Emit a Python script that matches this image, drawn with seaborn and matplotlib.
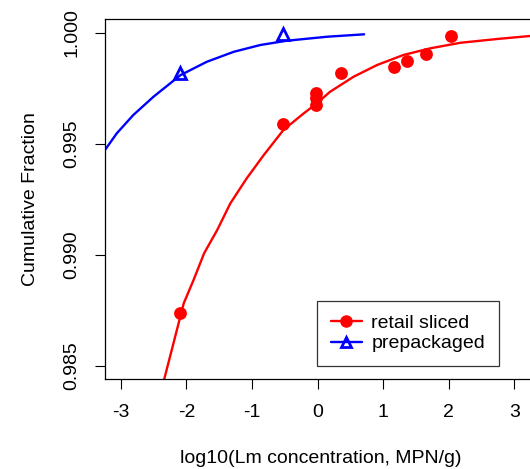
#!/usr/bin/env python3

import numpy as np
import pandas as pd
import matplotlib as mpl

mpl.use("Agg")

import matplotlib.pyplot as plt
import seaborn as sns
from matplotlib.lines import Line2D

# observed points
retail_x = [-2.09, -0.53, -0.03, -0.03, -0.03, 0.36, 1.17, 1.37, 1.66, 2.04]
retail_y = [0.98736, 0.99589, 0.99730, 0.99705, 0.99674, 0.99820, 0.99844, 0.99874, 0.99904, 0.99986]
prepack_x = [-2.09, -0.53]
prepack_y = [0.99818, 0.99993]

# fitted curves
retail_fit_x = [-2.40, -2.34, -2.04, -1.89, -1.73, -1.53, -1.33, -1.08, -0.82, -0.52,
                -0.21, -0.01, 0.19, 0.55, 0.91, 1.31, 1.72, 2.18, 2.74, 3.30]
retail_fit_y = [0.98410, 0.98436, 0.98781, 0.98886, 0.99006, 0.99111, 0.99231, 0.99344, 0.99449, 0.99562,
                0.99637, 0.99682, 0.99734, 0.99802, 0.99855, 0.99900, 0.99930, 0.99955, 0.99972, 0.99987]
prepack_fit_x = [-3.30, -3.24, -3.06, -2.81, -2.50, -2.09, -1.69, -1.28, -0.87, -0.47, 0.14, 0.71]
prepack_fit_y = [0.99445, 0.99472, 0.99547, 0.99629, 0.99712, 0.99809, 0.99869, 0.99914, 0.99945, 0.99964, 0.99982, 0.99993]

xticks = [-3, -2, -1, 0, 1, 2, 3]
yticks = [0.985, 0.990, 0.995, 1.000]

sns.set_theme(style="ticks")
plt.rcParams["font.family"] = ["Liberation Sans", "DejaVu Sans"]
plt.rcParams.update({
    "font.size": 14,
    "text.color": "black",
    "axes.labelcolor": "black",
    "xtick.color": "black",
    "ytick.color": "black",
})

fig = plt.figure(figsize=(5.30, 4.69), dpi=100)
ax = fig.add_axes([105 / 530, 1 - 379 / 469, 431 / 530, 360 / 469])

red = "#ff0000"
blue = "#0000ff"

sns.lineplot(x=retail_fit_x, y=retail_fit_y, ax=ax, color=red, lw=1.7, sort=False)
sns.lineplot(x=prepack_fit_x, y=prepack_fit_y, ax=ax, color=blue, lw=1.7, sort=False)
sns.scatterplot(x=retail_x, y=retail_y, ax=ax, color=red, s=85, marker="o",
                edgecolor=red, linewidth=0, zorder=5)
ax.plot(prepack_x, prepack_y, ls="none", marker="^", ms=9, mfc="none",
        mec=blue, mew=2, zorder=5)

ax.set_xlim(-3.24, 3.33)
ax.set_ylim(0.98440, 1.00062)
ax.set_xticks(xticks)
ax.set_xticklabels([str(t) for t in xticks])
ax.set_yticks(yticks)
ax.set_yticklabels(["%.3f" % t for t in yticks], rotation=90, va="center")
ax.tick_params(direction="out", length=7, width=0.8, labelsize=14)
ax.tick_params(axis="x", pad=11)
ax.tick_params(axis="y", pad=11)

ax.set_xlabel("log10(Lm concentration, MPN/g)", fontsize=14, labelpad=21)
ax.set_ylabel("Cumulative Fraction", fontsize=14, labelpad=17)

for s in ax.spines.values():
    s.set_color("black")
    s.set_linewidth(0.9)

handles = [
    Line2D([], [], color=red, lw=1.7, marker="o", ms=8),
    Line2D([], [], color=blue, lw=1.7, marker="^", ms=7, mfc="none", mew=2),
]
leg = ax.legend(handles, ["retail sliced", "prepackaged"], loc="lower left",
                bbox_to_anchor=((317 - 105) / 431, (379 - 366) / 360),
                borderaxespad=0, frameon=True, fancybox=False, edgecolor="black",
                fontsize=14, handlelength=1.6, borderpad=0.7, labelspacing=0.15,
                handletextpad=0.5)
leg.get_frame().set_linewidth(0.9)

fig.savefig("out.png", dpi=100)
